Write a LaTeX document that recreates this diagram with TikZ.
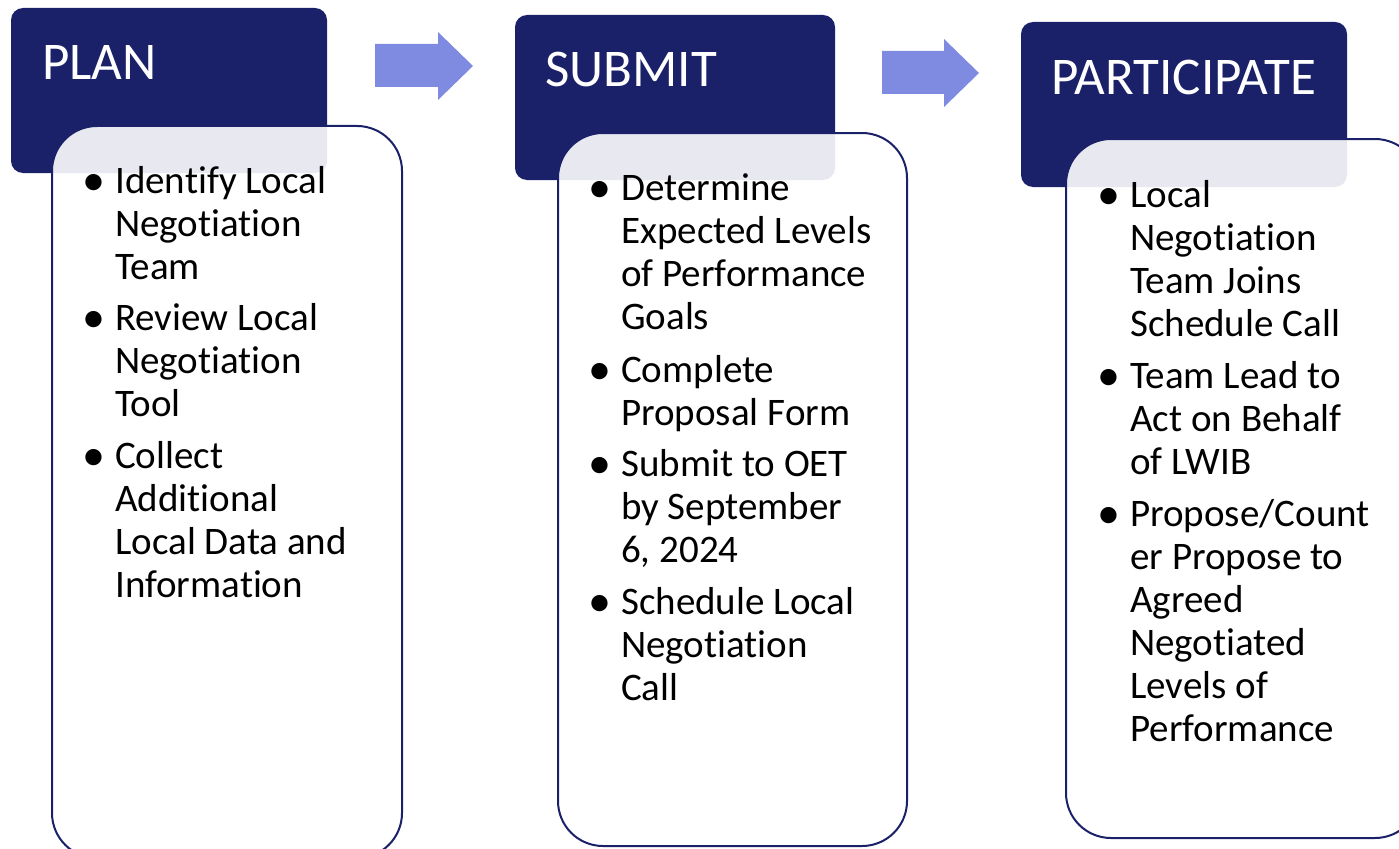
\documentclass[tikz,border=0pt]{standalone}
\usepackage{fontspec}
\setmainfont[Ligatures=NoCommon,Contextuals=NoAlternate]{Carlito}
\begin{document}
\begin{tikzpicture}[x=1pt,y=-1pt,
  header/.style={fill=navy,rounded corners=12pt},
  body/.style={draw=navy,line width=2pt,fill=white,fill opacity=0.9,rounded corners=45pt},
  title/.style={text=white,anchor=base west,inner sep=0pt,font=\fontsize{53}{60}\selectfont},
  item/.style={anchor=base west,inner sep=0pt,align=left,font=\fontsize{39}{43}\selectfont},
  dot/.style={anchor=base,inner sep=0pt,font=\fontsize{46}{46}\selectfont},
  flow/.style={fill=flowblue}]
\definecolor{navy}{HTML}{1A2169}
\definecolor{flowblue}{HTML}{7F8BE0}
\useasboundingbox (0,0) rectangle (1399,848);
\clip (0,0) rectangle (1399,848);

% step headers
\path[header] (11,8) rectangle (327,173);
\path[header] (515,15) rectangle (835,180);
\path[header] (1021,22) rectangle (1347,187);
\node[title] (tplan) at (42,80) {PLAN};
\node[title] (tsub) at (545,87) {SUBMIT};
\node[title] (tpart) at (1051,95) {PARTICIPATE};

% block arrows between steps
\path[flow] (375,44) -- (438,44) -- (438,32) -- (473,66) -- (438,100) -- (438,87) -- (375,87) -- cycle;
\path[flow] (882,51) -- (944,51) -- (944,39) -- (979,73) -- (944,107) -- (944,94) -- (882,94) -- cycle;

% detail panels
\path[body] (52,126) rectangle (402,858);
\path[body] (558,133) rectangle (907,846);
\path[body] (1066,139) rectangle (1420,838);

% item texts are placed by the baseline of their last line
% PLAN items
\node[dot] (b1) at (94,195) {•};
\node[item] (i1) at (115,279) {Identify Local\\Negotiation\\Team};
\node[dot] (b2) at (94,332) {•};
\node[item] (i2) at (115,416) {Review Local\\Negotiation\\Tool};
\node[dot] (b3) at (94,470) {•};
\node[item] (i3) at (115,597) {Collect\\Additional\\Local Data and\\Information};

% SUBMIT items
\node[dot] (b4) at (600,202) {•};
\node[item] (i4) at (621,329) {Determine\\Expected Levels\\of Performance\\Goals};
\node[dot] (b5) at (600,384) {•};
\node[item] (i5) at (621,425) {Complete\\Proposal Form};
\node[dot] (b6) at (600,478) {•};
\node[item] (i6) at (621,562) {Submit to OET\\by September\\6, 2024};
\node[dot] (b7) at (600,616) {•};
\node[item] (i7) at (621,700) {Schedule Local\\Negotiation\\Call};

% PARTICIPATE items
\node[dot] (b8) at (1109,209) {•};
\node[item] (i8) at (1130,336) {Local\\Negotiation\\Team Joins\\Schedule Call};
\node[dot] (b9) at (1109,390) {•};
\node[item] (i9) at (1130,474) {Team Lead to\\Act on Behalf\\of LWIB};
\node[dot] (b10) at (1109,528) {•};
\node[item] (i10) at (1130,741) {Propose/Count\\er Propose to\\Agreed\\Negotiated\\Levels of\\Performance};
\end{tikzpicture}
\end{document}
